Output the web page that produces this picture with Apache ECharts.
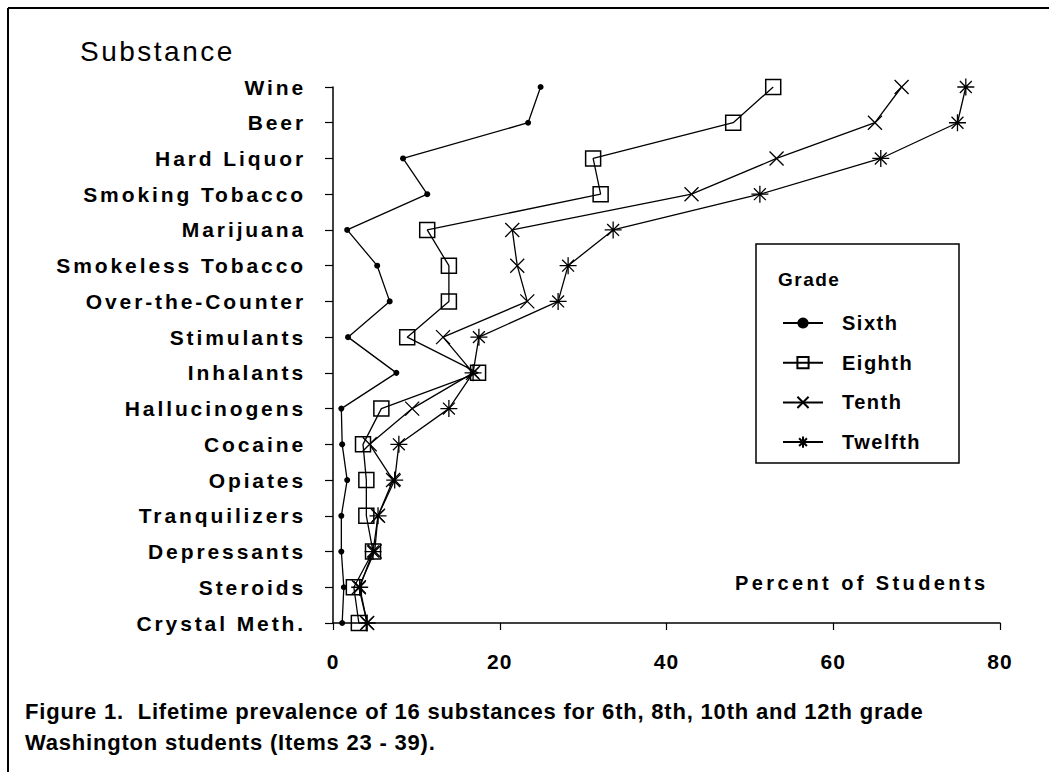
<!DOCTYPE html>
<html><head><meta charset="utf-8">
<script src="https://cdn.jsdelivr.net/npm/echarts@6/dist/echarts.min.js"></script>
<style>html,body{margin:0;padding:0;background:#fff}#chart{width:1049px;height:772px}</style>
</head><body><div id="chart"></div>
<script>
const categories = ['Wine','Beer','Hard Liquor','Smoking Tobacco','Marijuana','Smokeless Tobacco','Over-the-Counter','Stimulants','Inhalants','Hallucinogens','Cocaine','Opiates','Tranquilizers','Depressants','Steroids','Crystal Meth.'];
const sixth   = [24.9,23.4,8.4,11.3,1.7,5.3,6.8,1.8,7.6,1.0,1.1,1.7,1.0,1.0,1.3,1.1];
const eighth  = [52.8,48.0,31.2,32.1,11.3,13.9,13.9,8.9,17.4,5.8,3.6,4.0,4.0,4.8,2.5,3.1];
const tenth   = [68.2,65.0,53.2,43.0,21.5,22.1,23.3,13.2,16.8,9.5,4.4,7.2,5.4,5.0,3.1,4.1];
const twelfth = [75.9,74.9,65.7,51.2,33.6,28.2,27.0,17.5,16.8,13.9,7.9,7.4,5.4,4.8,3.2,4.1];
const xTickLabels = ['0','20','40','60','80'];
const seriesNames = ['Sixth','Eighth','Tenth','Twelfth'];
const titleText = 'Substance';
const xAxisTitle = 'Percent of Students';
const legendTitle = 'Grade';
const captionLine1 = 'Figure 1.  Lifetime prevalence of 16 substances for 6th, 8th, 10th and 12th grade';
const captionLine2 = 'Washington students (Items 23 - 39).';

const FONT = 'Liberation Sans, Arial, sans-serif';
const chart = echarts.init(document.getElementById('chart'), null, {renderer: 'svg'});

const markerStyles = [
  {symbol: 'circle', symbolSize: 6, itemStyle: {color: '#000'}},
  {symbol: 'rect', symbolSize: 15, itemStyle: {color: 'rgba(0,0,0,0)', borderColor: '#000', borderWidth: 1.5}},
  {symbol: 'path://M0,0L10,10M10,0L0,10', symbolSize: 14, itemStyle: {color: 'rgba(0,0,0,0)', borderColor: '#000', borderWidth: 1.3}},
  {symbol: 'path://M5,0L5,10M0,5L10,5M1.5,1.5L8.5,8.5M8.5,1.5L1.5,8.5', symbolSize: 17, itemStyle: {color: 'rgba(0,0,0,0)', borderColor: '#000', borderWidth: 1.3}}
];
const seriesData = [sixth, eighth, tenth, twelfth];

const option = {
  animation: false,
  backgroundColor: '#fff',
  grid: {left: 333, top: 87, width: 667, height: 536},
  xAxis: {
    type: 'value', min: 0, max: 80, interval: 20,
    axisLine: {show: true, lineStyle: {color: '#000', width: 1.5}},
    axisTick: {show: true, length: 7, lineStyle: {color: '#000', width: 1.2}},
    splitLine: {show: false},
    axisLabel: {margin: 28, color: '#000', fontFamily: FONT, fontWeight: 'bold', fontSize: 21,
      formatter: function (v) { return xTickLabels[Math.round(v / 20)]; }}
  },
  yAxis: {
    type: 'category', inverse: true, boundaryGap: false, data: categories,
    axisLine: {show: true, lineStyle: {color: '#000', width: 1.5}},
    axisTick: {show: true, length: 8, lineStyle: {color: '#000', width: 1.2}},
    splitLine: {show: false},
    axisLabel: {margin: 27, color: '#000', fontFamily: FONT, fontWeight: 'bold', fontSize: 21, interval: 0}
  },
  legend: {
    data: seriesNames, orient: 'vertical', left: 777, top: 308,
    itemWidth: 40, itemHeight: 14, itemGap: 19.7, selectedMode: false,
    textStyle: {color: '#000', fontFamily: FONT, fontWeight: 'bold', fontSize: 20, padding: [0, 0, 0, 14]}
  },
  series: seriesNames.map(function (n, i) {
    return Object.assign({
      name: n, type: 'line', data: seriesData[i], showSymbol: true, showAllSymbol: true,
      lineStyle: {color: '#000', width: 1.3}, z: 2 + i
    }, markerStyles[i]);
  }),
  graphic: [
    {type: 'line', shape: {x1: 8, y1: 8, x2: 1049, y2: 8}, style: {stroke: '#000', lineWidth: 2}},
    {type: 'line', shape: {x1: 8, y1: 8, x2: 8, y2: 772}, style: {stroke: '#000', lineWidth: 2}},
    {type: 'text', x: 80, y: 51, style: {text: titleText, font: '28px ' + FONT, fill: '#000', textVerticalAlign: 'middle'}},
    {type: 'text', x: 735, y: 583, style: {text: xAxisTitle, font: 'bold 20px ' + FONT, fill: '#000', textVerticalAlign: 'middle'}},
    {type: 'rect', shape: {x: 756, y: 244, width: 203, height: 219}, style: {fill: 'none', stroke: '#000', lineWidth: 1.5}},
    {type: 'text', x: 778, y: 279, style: {text: legendTitle, font: 'bold 19px ' + FONT, fill: '#000', textVerticalAlign: 'middle'}},
    {type: 'text', x: 25, y: 711, style: {text: captionLine1, font: 'bold 22px ' + FONT, fill: '#000', textVerticalAlign: 'middle'}},
    {type: 'text', x: 25, y: 742, style: {text: captionLine2, font: 'bold 22px ' + FONT, fill: '#000', textVerticalAlign: 'middle'}}
  ]
};
chart.setOption(option);

function applySpacing() {
  document.querySelectorAll('#chart text').forEach(function (t) {
    const s = t.textContent;
    let sp = null;
    if (categories.indexOf(s) >= 0) sp = 2.9;
    else if (xTickLabels.indexOf(s) >= 0) sp = 1;
    else if (s === titleText) sp = 2.5;
    else if (s === xAxisTitle) sp = 3.4;
    else if (seriesNames.indexOf(s) >= 0) sp = 1.5;
    else if (s === legendTitle) sp = 1.5;
    else if (s === captionLine1 || s === captionLine2) sp = 0.8;
    if (sp !== null) t.style.letterSpacing = sp + 'px';
  });
}
applySpacing();
chart.on('finished', applySpacing);
</script>
</body></html>
